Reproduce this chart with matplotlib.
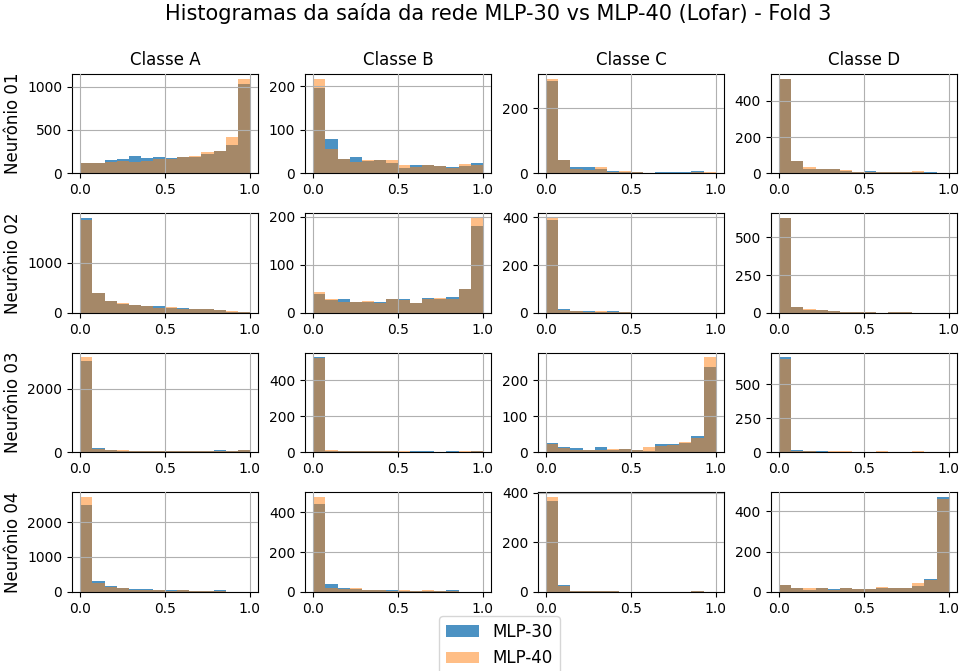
import numpy as np
import matplotlib
matplotlib.use("Agg")
import matplotlib.pyplot as plt

classes = ['Classe A', 'Classe B', 'Classe C', 'Classe D']
neurons = ['Neurônio 01', 'Neurônio 02', 'Neurônio 03', 'Neurônio 04']
models = ['MLP-30', 'MLP-40']

# 14 bins between 0 and 1, counts
bin_edges = np.linspace(0, 1, 15)

# neuron 01, one row per class (A, B, C, D)
mlp30_n01 = [
    [115, 125, 153, 165, 200, 172, 188, 172, 188, 192, 226, 253, 330, 1027],
    [196, 78, 34, 37, 29, 30, 25, 13, 20, 20, 18, 14, 17, 23],
    [283, 40, 20, 20, 13, 7, 4, 4, 2, 3, 5, 3, 7, 1],
    [518, 68, 27, 27, 22, 13, 7, 15, 7, 7, 7, 8, 7, 0],
]
mlp40_n01 = [
    [125, 120, 130, 145, 130, 142, 168, 165, 190, 200, 249, 260, 414, 1092],
    [218, 55, 33, 27, 30, 32, 32, 20, 14, 19, 17, 13, 21, 19],
    [291, 40, 13, 12, 20, 4, 7, 4, 2, 2, 2, 2, 3, 4],
    [522, 66, 33, 22, 26, 20, 7, 9, 7, 8, 7, 15, 4, 0],
]
# neuron 02
mlp30_n02 = [
    [1887, 390, 245, 172, 159, 132, 132, 99, 99, 79, 73, 53, 26, 13],
    [39, 26, 28, 23, 23, 23, 28, 28, 21, 30, 28, 34, 50, 181],
    [389, 17, 10, 6, 5, 6, 2, 0, 0, 0, 0, 0, 0, 0],
    [627, 37, 18, 18, 15, 9, 6, 9, 2, 6, 9, 0, 0, 0],
]
mlp40_n02 = [
    [1847, 397, 245, 192, 159, 132, 99, 119, 79, 79, 73, 53, 46, 26],
    [44, 28, 22, 23, 25, 21, 28, 26, 21, 28, 30, 28, 50, 197],
    [397, 11, 7, 5, 6, 4, 5, 0, 0, 0, 0, 0, 0, 0],
    [625, 36, 24, 18, 12, 9, 9, 5, 2, 8, 4, 0, 0, 0],
]
# neuron 03
mlp30_n03 = [
    [2880, 125, 83, 42, 30, 30, 30, 30, 30, 30, 30, 80, 35, 80],
    [527, 7, 5, 5, 5, 5, 5, 3, 7, 7, 2, 7, 4, 5],
    [27, 14, 11, 7, 14, 7, 10, 7, 5, 22, 22, 26, 46, 238],
    [695, 17, 10, 9, 5, 4, 2, 3, 5, 2, 2, 2, 1, 1],
]
mlp40_n03 = [
    [2980, 120, 83, 83, 30, 30, 30, 30, 30, 30, 30, 40, 35, 80],
    [525, 13, 5, 5, 5, 5, 5, 5, 3, 3, 2, 4, 7, 5],
    [23, 11, 6, 7, 7, 10, 10, 6, 14, 18, 21, 28, 41, 264],
    [685, 10, 10, 5, 9, 9, 2, 3, 9, 2, 2, 9, 1, 1],
]
# neuron 04
mlp30_n04 = [
    [2480, 307, 160, 106, 67, 67, 40, 40, 38, 35, 10, 40, 5, 5],
    [444, 39, 18, 16, 7, 7, 7, 4, 2, 2, 2, 7, 0, 0],
    [365, 27, 5, 4, 5, 5, 1, 1, 1, 1, 1, 1, 5, 1],
    [35, 17, 10, 17, 13, 20, 13, 13, 17, 18, 18, 30, 65, 472],
]
mlp40_n04 = [
    [2720, 250, 150, 106, 40, 40, 40, 20, 38, 35, 10, 10, 5, 5],
    [478, 17, 16, 17, 7, 7, 4, 7, 2, 7, 2, 2, 0, 0],
    [383, 22, 5, 5, 2, 2, 1, 1, 1, 1, 1, 1, 2, 1],
    [33, 17, 17, 20, 10, 17, 13, 13, 23, 18, 18, 44, 60, 462],
]

counts30 = [mlp30_n01, mlp30_n02, mlp30_n03, mlp30_n04]
counts40 = [mlp40_n01, mlp40_n02, mlp40_n03, mlp40_n04]

centers = (bin_edges[:-1] + bin_edges[1:]) / 2

fig, axes = plt.subplots(4, 4, figsize=(9.59, 6.71), dpi=100)
fig.subplots_adjust(left=0.075, right=0.998, top=0.89, bottom=0.118,
                    wspace=0.25, hspace=0.4)

for i in range(4):
    for j in range(4):
        ax = axes[i, j]
        ax.hist(centers, bins=bin_edges, weights=counts30[i][j],
                color='C0', alpha=0.8, label=models[0])
        ax.hist(centers, bins=bin_edges, weights=counts40[i][j],
                color='C1', alpha=0.5, label=models[1])
        ax.grid(True)
        ax.set_axisbelow(False)
        if i == 0:
            ax.set_title(classes[j], fontsize=12)
        if j == 0:
            ax.set_ylabel(neurons[i], fontsize=12)

handles, labels = axes[0, 0].get_legend_handles_labels()
fig.legend(handles, labels, loc='upper center', bbox_to_anchor=(0.521, 0.094),
           fontsize=12)

fig.suptitle('Histogramas da saída da rede MLP-30 vs MLP-40 (Lofar) - Fold 3',
             fontsize=15, x=0.52, y=0.995)

fig.savefig('out.png', dpi=100)
